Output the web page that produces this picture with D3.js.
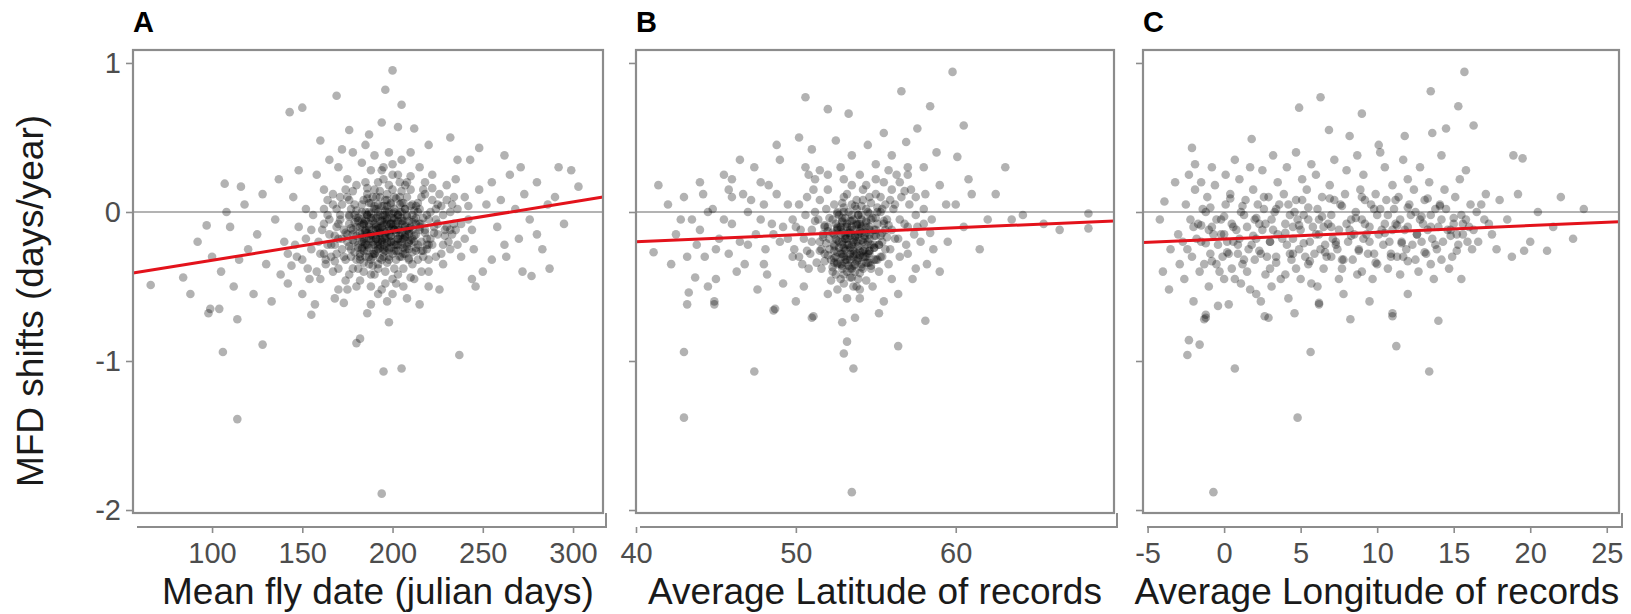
<!DOCTYPE html>
<html>
<head>
<meta charset="utf-8">
<script src="https://cdn.jsdelivr.net/npm/d3@7"></script>
<style>
  body { margin: 0; background: #fff; }
  svg { display: block; font-family: "Liberation Sans", Arial, sans-serif; }
</style>
</head>
<body>
<svg id="chart"></svg>
<script>
const width = 1631;
const height = 614;

// shift values (days/year) against mean fly date, panel A
const pointsA = [
  [200,0.95],[196,0.82],[169,0.78],[150,0.70],[143,0.67],[205,0.72],[187,0.52],[203,0.57],[212,0.56],[232,0.50],
  [248,0.43],[243,0.35],[299,0.28],[303,0.17],[271,0.30],[107,0.19],[116,0.17],[108,0.0],[97,-0.09],[66,-0.49],
  [84,-0.44],[98,-0.68],[277,-0.43],[262,-0.22],[280,-0.15],[246,-0.50],[175,-0.52],[255,-0.32],[106,-0.94],[128,-0.89],
  [114,-1.39],[194,-1.89],[195,-1.07],[205,-1.05],[237,-0.96],[180,-0.88],[182,-0.85],[198,-0.74],[186,-0.68],[155,-0.69],
  [114,-0.72],[99,-0.65],[104,-0.65],[173,-0.61],[197,-0.60],
  [120,-0.25],[125,-0.15],[130,-0.35],[135,-0.05],[138,-0.42],[140,-0.20],[145,0.10],[147,-0.30],[150,-0.55],[152,0.02],
  [155,-0.12],[158,0.25],[160,-0.45],[162,0.15],[165,0.35],[168,-0.58],[170,0.30],[172,0.42],[175,0.22],[178,0.40],
  [180,-0.50],[183,0.33],[185,0.45],[188,0.28],[190,0.38],[192,-0.55],[195,0.30],[198,0.40],[200,0.25],[202,-0.48],
  [205,0.35],[208,0.20],[210,0.40],[212,-0.45],[215,0.30],[218,0.12],[220,-0.40],[222,0.25],[225,0.05],[228,-0.35],
  [230,0.18],[233,-0.15],[235,0.22],[238,-0.30],[240,0.10],[242,-0.05],[245,-0.25],[248,0.15],[250,-0.40],[252,0.05],
  [255,0.20],[258,-0.10],[260,0.08],[263,-0.30],[265,0.25],[268,0.02],[270,-0.18],[273,0.12],[276,-0.05],[280,0.20],
  [283,-0.25],[286,0.05],[290,0.10],[295,-0.08],[112,-0.50],[118,0.05],[123,-0.55],[128,0.12],[133,-0.60],[137,0.22],
  [142,-0.48],[148,0.28],[153,-0.38],[157,-0.62],[163,-0.32],[167,0.05],[188,-0.62],[208,-0.58],[226,-0.52],[236,0.35],
  [244,-0.45],[215,-0.62],[160,0.48],[176,0.55],[194,0.60],[220,0.45],[100,-0.30],[105,-0.40],[92,-0.20],[88,-0.55],
  [110,-0.10],[115,-0.32],[287,-0.38],[292,0.30],[262,0.38],[272,-0.40],
  [160,-0.28],[161,-0.12],[159,-0.20],[162,0.02],[163,-0.35],[162,-0.08],[164,-0.22],[165,-0.15],[166,-0.30],[164,0.08],
  [167,-0.40],[165,-0.05],[168,-0.22],[169,-0.10],[167,0.12],[168,-0.33],[170,-0.18],[171,-0.02],[169,-0.28],[172,0.05],
  [170,-0.38],[173,-0.12],[172,-0.25],[174,0.15],[171,-0.05],[175,-0.20],[176,-0.08],[174,-0.32],[177,0.02],[175,0.10],
  [176,-0.42],[178,-0.15],[177,-0.25],[179,-0.02],[180,-0.10],[181,-0.22],[179,0.05],[182,-0.30],[180,0.18],[181,-0.38],
  [183,-0.15],[183,-0.05],[184,-0.18],[182,-0.28],[184,0.08],[185,-0.12],[186,-0.02],[185,-0.22],[187,-0.35],[186,0.12],
  [184,-0.08],[185,0.20],[188,-0.15],[189,-0.28],[187,0.00],[188,-0.42],[190,-0.08],[191,-0.18],[189,-0.30],[192,0.05],
  [190,0.15],[191,-0.12],[190,-0.22],[193,-0.02],[192,-0.25],[194,-0.10],[193,0.10],[192,-0.35],[195,-0.12],[196,-0.05],
  [194,-0.20],[197,0.00],[195,-0.30],[196,0.08],[195,0.22],[196,-0.40],[198,-0.15],[199,-0.08],[197,0.12],[198,-0.25],
  [200,-0.10],[201,0.02],[199,-0.20],[202,-0.32],[200,0.15],[201,-0.05],[200,-0.45],[203,-0.12],[204,0.05],[202,-0.22],
  [203,0.25],[205,-0.08],[206,-0.18],[204,0.10],[207,-0.28],[205,0.00],[206,-0.38],[208,-0.02],[209,-0.15],[207,0.18],
  [210,-0.10],[211,0.05],[209,-0.25],[212,-0.05],[210,0.15],[211,-0.35],[213,-0.15],[214,0.00],[212,-0.20],[215,-0.08],
  [216,0.10],[214,-0.22],[217,-0.30],[215,0.02],[218,-0.12],[219,-0.02],[217,0.15],[219,-0.25],[220,-0.05],[221,-0.18],
  [222,0.08],[220,-0.32],[223,-0.10],[224,0.02],[222,-0.22],[225,-0.15],[226,0.12],[224,-0.05],[227,-0.28],[228,-0.02],
  [229,-0.12],[230,0.08],[231,-0.20],[232,0.00],[230,-0.10],[233,0.05],[234,-0.08],[232,-0.25],[235,-0.12],[236,0.02],
  [178,-0.12],[181,-0.06],[184,-0.20],[187,-0.10],[189,-0.16],[191,-0.04],[193,-0.14],[195,-0.22],[197,-0.08],[199,-0.16],
  [201,-0.12],[203,-0.02],[205,-0.20],[207,-0.10],[209,-0.06],[211,-0.18],[213,-0.08],[186,-0.26],[190,-0.28],[194,-0.32],
  [198,-0.30],[202,-0.26],[206,-0.24],[182,-0.14],[188,-0.04],[192,-0.20],[196,-0.14],[200,-0.04],[204,-0.16],[208,-0.12],
  [179,-0.20],[183,0.00],[187,0.06],[191,0.02],[195,0.04],[199,0.06],[203,-0.06],[207,0.02],[211,-0.02],[176,-0.02],
  [174,-0.14],[172,-0.18],[185,-0.30],[189,-0.36],[193,-0.24],[197,-0.34],[201,-0.38],[205,-0.30],[209,-0.32],[213,-0.26],
  [180,-0.32],[184,-0.40],[190,-0.42],[196,-0.48],[203,-0.42],[210,-0.44],[186,0.16],[192,0.20],[198,0.18],[204,0.20],
  [210,0.24],[194,0.28],[200,0.32],[189,0.10],[193,0.14],[197,0.04],[201,0.10],[205,0.14],[215,-0.12],[217,-0.04],
  [219,-0.18],[221,0.00],[223,-0.14],[225,-0.08],[227,0.04],[229,-0.16],[214,0.06],[218,0.20],[222,0.16],[216,-0.26],
  [220,-0.22],[224,-0.30],[228,-0.22],[232,-0.12],[234,0.10],[238,-0.08],[240,-0.18],[236,-0.22],[242,0.04],[244,-0.12],
  [170,-0.08],[168,-0.16],[166,-0.22],[164,-0.02],[162,-0.28],[173,-0.30],[171,0.10],[169,0.02],[176,0.08],[178,0.14],
  [155,-0.25],[152,-0.18],[150,-0.32],[148,-0.10],[156,-0.02],[158,-0.40],[154,-0.45],[146,-0.22],[144,-0.36],[142,-0.28],
  [182,-0.46],[188,-0.50],[194,-0.52],[200,-0.55],[206,-0.50],[178,-0.38],[174,-0.46],[170,-0.52],[216,-0.40],[220,-0.50],
  [191,-0.09],[193,-0.18],[195,-0.02],[197,-0.20],[199,-0.12],[189,-0.22],[187,-0.18],[185,-0.06],[201,-0.22],[203,-0.18],
  [205,-0.04],[207,-0.16],[192,-0.11],[196,-0.26],[200,-0.28],[194,-0.06],[198,0.00],[190,0.04],[186,-0.14],[183,-0.24],
  [180,-0.04],[209,-0.20],[211,-0.12],[213,0.04],[188,-0.32],[192,-0.38],[196,-0.18],[202,-0.08],[206,0.06],[184,-0.34],
  [177,-0.30],[182,-0.32],[187,-0.30],[193,-0.31],[198,-0.32],[204,-0.30],[209,-0.31],[214,-0.32],
  [179,-0.27],[184,-0.26],[190,-0.28],[195,-0.27],[201,-0.26],[206,-0.28],[211,-0.27],[217,-0.26],
  [176,-0.23],[181,-0.24],[186,-0.22],[192,-0.23],[197,-0.24],[203,-0.22],[208,-0.23],[213,-0.24],[219,-0.22],
  [178,-0.19],[183,-0.20],[188,-0.18],[194,-0.19],[199,-0.20],[205,-0.18],[210,-0.19],[216,-0.20],
  [175,-0.15],[180,-0.16],[185,-0.14],[191,-0.15],[196,-0.16],[202,-0.14],[207,-0.15],[212,-0.16],[218,-0.14],
  [177,-0.11],[182,-0.10],[187,-0.12],[193,-0.11],[198,-0.10],[204,-0.12],[209,-0.11],[215,-0.10],
  [179,-0.07],[184,-0.08],[189,-0.06],[195,-0.07],[200,-0.08],[206,-0.06],[211,-0.07],[216,-0.08],
  [176,-0.03],[181,-0.04],[186,-0.02],[192,-0.03],[197,-0.04],[203,-0.02],[208,-0.03],[213,-0.04],
  [180,0.01],[185,0.00],[190,0.02],[196,0.01],[201,0.00],[207,0.02],[212,0.01],
  [183,0.05],[188,0.06],[194,0.04],[199,0.05],[205,0.06],[210,0.04],
  [186,0.09],[191,0.10],[197,0.08],[202,0.09],[208,0.10],
  [183,-0.25],[187,-0.24],[191,-0.26],[195,-0.25],[199,-0.24],[203,-0.26],[207,-0.25],
  [185,-0.21],[189,-0.20],[193,-0.22],[197,-0.21],[201,-0.20],[205,-0.22],[209,-0.21],
  [183,-0.17],[187,-0.16],[191,-0.18],[195,-0.17],[199,-0.16],[203,-0.18],[207,-0.17],
  [185,-0.13],[189,-0.12],[193,-0.14],[197,-0.13],[201,-0.12],[205,-0.14],[209,-0.13],
  [183,-0.09],[187,-0.08],[191,-0.10],[195,-0.09],[199,-0.08],[203,-0.10],[207,-0.09],
  [185,-0.05],[189,-0.04],[193,-0.06],[197,-0.05],[201,-0.04],[205,-0.06],
  [188,-0.01],[192,0.00],[196,-0.02],[200,-0.01],[204,0.00]
];

// shift values against average latitude, panel B
const pointsB = [
  [59.8,0.94],[56.6,0.81],[50.6,0.77],[52.0,0.69],[53.3,0.66],[58.4,0.71],[60.5,0.58],[57.6,0.56],[55.5,0.53],[56.9,0.47],
  [63.1,0.30],[60.1,0.37],[64.2,-0.02],[68.3,-0.01],[68.3,-0.11],[61.5,-0.25],[41.4,0.18],[41.1,-0.27],[43.7,-0.44],[43.3,-0.54],
  [44.9,-0.62],[43.2,-0.62],[56.4,-0.55],[51.0,-0.71],[48.6,-0.66],[43.0,-0.94],[43.0,-1.38],[47.4,-1.07],[53.5,-1.88],[53.6,-1.05],
  [56.4,-0.90],[53.0,-0.95],[53.2,-0.87],[58.1,-0.73],[55.2,-0.68],[53.7,-0.71],[52.9,-0.74],[51.1,-0.70],[48.7,-0.65],[44.9,-0.60],
  [50.0,-0.60],
  [42.0,0.05],[42.5,-0.15],[43.0,0.10],[43.5,-0.05],[44.0,0.20],[44.3,-0.30],[44.8,0.02],[45.2,-0.18],[45.5,0.25],[46.0,-0.08],
  [46.3,-0.40],[46.7,0.12],[47.0,-0.22],[47.4,0.30],[47.8,-0.05],[48.0,-0.35],[48.3,0.18],[48.6,-0.15],[49.0,0.35],[49.2,-0.48],
  [49.5,0.05],[45.0,-0.45],[46.5,0.35],[47.6,-0.52],[48.8,0.45],[50.2,0.50],[51.0,0.42],[51.5,0.28],[52.5,0.48],[53.5,0.38],
  [54.5,0.45],[55.0,0.32],[56.0,0.38],[57.0,0.25],[57.5,0.10],[58.0,0.30],[58.5,-0.05],[59.0,0.18],[59.5,-0.20],[60.0,0.05],
  [60.5,-0.10],[61.0,0.12],[62.0,-0.05],[58.2,-0.35],[57.3,-0.45],[59.0,-0.40],[55.5,-0.60],[54.0,-0.58],[52.0,-0.55],[50.5,-0.50],
  [49.8,-0.30],[42.2,-0.35],[44.5,-0.50],[46.0,0.22],[47.2,0.08],[48.1,-0.25],[45.8,-0.28],[43.8,-0.22],[50.8,0.25],[52.8,0.30],
  [58.8,0.40],[57.8,-0.20],[60.8,0.22],[63.5,-0.05],[65.5,-0.08],[66.5,-0.12],[62.5,0.12],
  [50.0,-0.10],[50.2,0.05],[49.9,-0.25],[50.5,-0.18],[50.7,0.10],[50.4,-0.35],[50.6,-0.02],[51.0,-0.12],[51.2,0.00],[50.9,-0.28],
  [51.1,0.15],[51.5,-0.20],[51.4,-0.05],[51.6,-0.38],[51.5,0.08],[51.7,-0.15],[52.0,-0.10],[52.1,-0.25],[51.9,0.02],[52.2,-0.32],
  [52.0,0.15],[52.1,-0.18],[52.4,-0.22],[52.5,-0.08],[52.3,-0.40],[52.5,-0.30],[52.4,0.05],[52.8,-0.15],[52.9,-0.28],[52.7,-0.02],
  [52.8,-0.35],[53.0,0.10],[52.8,-0.45],[52.9,-0.20],[53.1,-0.25],[53.2,-0.10],[53.1,-0.32],[53.0,0.00],[53.2,-0.40],[53.1,-0.18],
  [53.5,-0.22],[53.4,-0.12],[53.6,-0.30],[53.5,0.05],[53.4,-0.38],[53.6,-0.05],[53.5,0.18],[53.8,-0.28],[53.9,-0.15],[53.7,-0.35],
  [53.8,0.02],[53.9,-0.45],[53.8,-0.08],[54.2,-0.20],[54.1,-0.10],[54.3,-0.30],[54.2,0.08],[54.1,-0.02],[54.3,-0.25],[54.2,0.15],
  [54.6,-0.15],[54.7,-0.05],[54.5,-0.28],[54.6,0.10],[54.7,-0.38],[55.0,-0.12],[55.1,0.00],[54.9,-0.22],[55.0,0.12],[55.1,-0.32],
  [55.5,-0.08],[55.4,-0.20],[55.6,0.05],[55.5,0.20],[55.4,-0.30],[56.0,-0.12],[56.1,0.02],[55.9,-0.25],[56.0,0.15],[56.5,-0.05],
  [56.4,-0.18],[56.6,0.10],[57.0,-0.10],[57.1,0.05],[56.9,-0.22],[57.5,-0.02],[57.4,-0.15],[58.0,-0.08],[58.1,0.12],
  [52.6,-0.12],[52.9,-0.06],[53.2,-0.18],[53.5,-0.10],[53.8,-0.20],[54.1,-0.14],[54.4,-0.06],[54.7,-0.22],[55.0,-0.04],[55.3,-0.16],
  [52.7,-0.24],[53.0,-0.30],[53.3,-0.36],[53.6,-0.26],[53.9,-0.32],[54.2,-0.38],[54.5,-0.34],[52.5,-0.42],[53.0,-0.48],[53.6,-0.50],
  [54.0,-0.52],[52.2,-0.46],[51.8,-0.28],[51.3,-0.34],[51.0,-0.20],[50.7,-0.26],[50.3,-0.12],[49.8,-0.05],[49.5,-0.18],[49.2,-0.10],
  [52.3,-0.14],[52.6,0.00],[52.9,0.06],[53.2,0.12],[53.5,-0.02],[53.8,0.08],[54.1,0.04],[54.4,0.18],[54.7,0.06],[55.0,0.22],
  [55.3,0.10],[55.6,-0.12],[55.9,0.08],[56.2,-0.18],[56.5,0.20],[56.8,-0.08],[57.2,0.15],[57.6,-0.10],[58.0,0.02],[58.4,-0.14],
  [55.8,0.28],[56.3,0.25],[57.0,0.30],[54.0,0.25],[53.0,0.22],[52.0,0.25],[51.2,0.22],[55.2,-0.40],[55.8,-0.35],[56.5,-0.30],
  [57.0,-0.28],[53.3,-0.14],[53.7,-0.16],[54.0,-0.08],[54.3,-0.16],[52.8,-0.10],[53.1,-0.04],[53.4,-0.28],[53.7,-0.40],[54.0,-0.26],
  [54.6,-0.26],[54.9,-0.12],[55.2,-0.22],[52.4,-0.34],[52.1,-0.04],[51.8,-0.10],[51.5,-0.26],[51.2,-0.06],[50.8,-0.38],[50.2,-0.30],
  [48.5,-0.08],[48.0,0.05],[47.5,-0.15],[47.0,0.00],[46.5,-0.20],[46.0,0.10],[45.5,-0.05],[45.0,-0.25],[44.5,0.00],[44.0,-0.12],
  [49.0,-0.20],[48.8,0.12],[48.2,-0.42],[47.8,0.20],[46.8,-0.35],[45.8,0.15],[44.2,0.12],[43.2,-0.30],[42.8,-0.05],[50.6,0.30],
  [53.4,-0.44],[53.8,-0.50],[54.4,-0.46],[52.6,-0.52],[53.2,-0.58],[54.8,-0.50],[56.0,-0.45],[57.5,-0.38],[58.6,-0.25],[59.4,0.05],
  [53.6,-0.19],[53.2,-0.22],[54.2,-0.30],[52.9,-0.38],[53.9,-0.02],[54.5,0.00],[55.4,0.02],[56.2,0.05],[55.7,-0.05],[56.8,0.14],
  [52.3,-0.37],[52.9,-0.36],[53.5,-0.38],[54.1,-0.37],[54.7,-0.36],
  [51.8,-0.33],[52.6,-0.34],[53.2,-0.32],[53.8,-0.33],[54.4,-0.34],[55.0,-0.32],
  [52.0,-0.29],[52.8,-0.28],[53.4,-0.30],[54.0,-0.29],[54.6,-0.28],[55.3,-0.30],
  [51.6,-0.25],[52.4,-0.26],[53.0,-0.24],[53.6,-0.25],[54.2,-0.26],[54.9,-0.24],[55.6,-0.25],
  [51.9,-0.21],[52.7,-0.20],[53.3,-0.22],[53.9,-0.21],[54.5,-0.20],[55.2,-0.22],
  [51.7,-0.17],[52.5,-0.18],[53.1,-0.16],[53.7,-0.17],[54.3,-0.18],[55.0,-0.16],[55.7,-0.17],
  [52.0,-0.13],[52.8,-0.12],[53.4,-0.14],[54.0,-0.13],[54.6,-0.12],[55.4,-0.14],
  [51.8,-0.09],[52.6,-0.10],[53.2,-0.08],[53.8,-0.09],[54.4,-0.10],[55.1,-0.08],[55.8,-0.09],
  [52.3,-0.05],[52.9,-0.04],[53.5,-0.06],[54.1,-0.05],[54.8,-0.04],[55.5,-0.06],
  [52.6,-0.01],[53.3,0.00],[53.9,-0.02],[54.6,-0.01],[55.3,0.00],
  [53.0,0.03],[53.7,0.04],[54.4,0.02],[55.1,0.03],
  [52.6,-0.35],[53.1,-0.34],[53.6,-0.36],[54.1,-0.35],[54.6,-0.34],
  [52.4,-0.31],[52.9,-0.30],[53.4,-0.32],[53.9,-0.31],[54.4,-0.30],[54.9,-0.32],
  [52.6,-0.27],[53.1,-0.26],[53.6,-0.28],[54.1,-0.27],[54.6,-0.26],
  [52.4,-0.23],[52.9,-0.22],[53.4,-0.24],[53.9,-0.23],[54.4,-0.22],[54.9,-0.24],
  [52.6,-0.19],[53.1,-0.18],[53.6,-0.20],[54.1,-0.19],[54.6,-0.18],
  [52.4,-0.15],[52.9,-0.14],[53.4,-0.16],[53.9,-0.15],[54.4,-0.14],[54.9,-0.16],
  [52.6,-0.11],[53.1,-0.10],[53.6,-0.12],[54.1,-0.11],[54.6,-0.10],
  [52.9,-0.07],[53.4,-0.06],[53.9,-0.08],[54.4,-0.07],
  [53.0,-0.42],[53.5,-0.44],[54.0,-0.41]
];

// shift values against average longitude, panel C
const pointsC = [
  [15.7,0.94],[13.5,0.81],[6.3,0.77],[4.9,0.70],[9.0,0.66],[15.3,0.71],[16.3,0.58],[6.85,0.55],[8.2,0.51],[1.8,0.49],
  [-2.1,0.43],[-1.9,0.32],[18.9,0.38],[19.5,0.36],[10.1,0.45],[11.8,0.51],[13.6,0.53],[14.5,0.56],[-3.9,0.07],[20.5,0.0],
  [23.5,0.02],[22.8,-0.18],[19.6,-0.26],[21.1,-0.26],[-3.6,-0.52],[-1.2,-0.71],[2.9,-0.71],[6.2,-0.62],[11.0,-0.70],[14.0,-0.73],
  [-2.4,-0.96],[-1.6,-0.89],[-2.3,-0.86],[0.7,-1.05],[4.8,-1.38],[-0.7,-1.88],[5.65,-0.94],[11.25,-0.90],[13.4,-1.07],[11.0,-0.68],
  [8.25,-0.72],[2.65,-0.70],[-0.4,-0.63],[-1.3,-0.72],[-1.2,-0.69],[4.6,-0.68],[6.2,-0.61],
  [-3.0,-0.15],[-2.9,-0.35],[-2.5,0.05],[-2.4,-0.25],[-2.6,-0.45],[-2.0,-0.10],[-1.9,0.15],[-2.1,-0.30],[-1.5,-0.20],[-1.4,0.02],
  [-1.6,-0.40],[-1.5,0.20],[-1.0,-0.12],[-0.9,-0.28],[-1.1,0.10],[-1.0,-0.50],[-0.5,-0.05],[-0.4,-0.22],[-0.6,0.18],[-0.5,-0.35],
  [0.0,-0.15],[0.1,0.05],[-0.1,-0.30],[0.0,-0.45],[0.1,0.25],[0.5,-0.08],[0.6,-0.20],[0.4,0.12],[0.5,-0.38],[1.0,-0.18],
  [1.1,0.00],[0.9,-0.28],[1.0,0.22],[1.1,-0.48],[1.5,-0.10],[1.6,-0.25],[1.4,0.08],[1.5,-0.40],[2.0,-0.05],[2.1,-0.18],
  [1.9,0.15],[2.0,-0.32],[2.1,-0.55],[2.5,-0.12],[2.6,0.02],[2.4,-0.28],[2.5,0.28],[3.0,-0.20],[3.1,-0.05],[2.9,0.10],
  [3.0,-0.38],[3.1,-0.50],[3.5,-0.15],[3.6,0.05],[3.4,-0.30],[3.5,0.20],[4.0,-0.08],[4.1,-0.22],[3.9,0.12],[4.0,-0.42],
  [4.1,0.30],[4.5,-0.18],[4.6,0.00],[4.4,-0.32],[4.5,-0.10],[5.0,-0.12],[5.1,0.08],[4.9,-0.25],[5.0,-0.45],[5.1,0.22],
  [5.5,-0.05],[5.6,-0.20],[5.4,0.15],[5.5,-0.35],[6.0,-0.15],[6.1,0.02],[5.9,-0.28],[6.0,0.25],[6.1,-0.50],[6.5,-0.10],
  [6.6,-0.22],[6.4,0.10],[6.5,-0.38],[7.0,-0.02],[7.1,-0.18],[6.9,0.18],[7.0,-0.30],[7.5,-0.12],[7.6,0.05],[7.4,-0.25],
  [7.5,-0.45],[8.0,-0.08],[8.1,-0.20],[7.9,0.12],[8.0,0.28],[8.5,-0.15],[8.6,0.00],[8.4,-0.32],[9.0,-0.05],[9.1,-0.18],
  [8.9,0.15],[9.0,-0.40],[9.1,0.25],[9.5,-0.10],[9.6,0.05],[9.4,-0.28],[10.0,-0.02],[10.1,-0.15],[9.9,0.12],[10.0,-0.35],
  [10.5,-0.08],[10.6,0.08],[10.4,-0.22],[10.5,0.30],[11.0,-0.12],[11.1,0.02],[10.9,-0.30],[11.0,0.18],[11.5,-0.05],[11.6,-0.20],
  [11.4,0.10],[11.5,-0.42],[12.0,-0.10],[12.1,0.05],[11.9,-0.25],[12.0,0.22],[12.5,0.00],[12.6,-0.15],[12.4,0.15],[12.5,-0.32],
  [13.0,-0.08],[13.1,0.08],[12.9,-0.20],[13.5,-0.02],[13.6,-0.18],[13.4,0.20],[13.5,-0.35],[14.0,-0.10],[14.1,0.05],[13.9,-0.25],
  [14.5,0.02],[14.6,-0.12],[14.4,0.15],[15.0,-0.08],[15.1,0.10],[14.9,-0.30],[15.5,-0.02],[15.6,-0.15],[15.4,0.22],[16.0,-0.10],
  [16.1,0.05],[16.5,0.00],[16.6,-0.20],[17.0,-0.05],[17.1,0.12],[17.5,-0.15],[18.0,0.08],
  [-2.2,-0.05],[-1.8,-0.18],[-1.2,0.00],[-0.8,-0.10],[-0.2,-0.05],[0.3,-0.28],[0.8,-0.12],[1.2,-0.35],[1.8,-0.22],[2.3,-0.08],
  [2.8,-0.30],[3.3,0.00],[3.8,-0.18],[4.3,-0.28],[4.8,-0.05],[5.3,-0.30],[5.8,-0.10],[6.3,-0.25],[6.8,-0.08],[7.3,-0.20],
  [7.8,-0.32],[8.3,-0.05],[8.8,-0.25],[9.3,-0.15],[9.8,-0.28],[10.3,-0.12],[10.8,-0.20],[11.3,-0.30],[11.8,-0.12],[12.3,-0.22],
  [12.8,-0.05],[13.3,-0.12],[13.8,0.02],[14.3,-0.20],[14.8,-0.12],[15.3,-0.22],[15.8,-0.05],[16.3,-0.12],[16.8,0.05],[17.3,-0.08],
  [-2.7,-0.20],[-1.7,-0.08],[-0.7,-0.15],[0.2,-0.20],[1.3,-0.02],[2.2,0.05],[3.2,-0.12],[4.2,0.05],[5.2,-0.02],[6.2,-0.05],
  [7.2,0.08],[8.2,-0.12],[9.2,0.08],[10.2,0.02],[11.2,-0.08],[12.2,-0.02],[13.2,-0.28],[14.2,-0.05],[15.2,-0.15],[16.2,-0.25],
  [-1.3,-0.35],[-0.3,-0.40],[0.7,-0.45],[1.7,-0.52],[2.7,-0.42],[3.7,-0.45],[4.7,-0.38],[5.7,-0.48],[6.7,-0.30],[7.7,-0.38],
  [8.7,-0.42],[9.7,-0.45],[10.7,-0.38],[11.7,-0.30],[12.7,-0.40],[13.7,-0.45],[14.7,-0.38],[-2.3,0.25],[-0.8,0.30],[0.7,0.35],
  [1.7,0.30],[3.2,0.38],[4.7,0.40],[5.7,0.32],[7.2,0.35],[8.7,0.38],[10.2,0.40],[11.7,0.35],[12.8,0.30],[14.2,0.38],
  [15.8,0.28],[17.8,-0.25],[18.5,-0.05],[18.8,-0.30],[19.2,0.12],[20.0,-0.20],[21.5,-0.10],[22.0,0.10],[-3.5,-0.25],[-4.0,-0.40],
  [-3.2,0.20],[-4.2,-0.05],[2.4,-0.60],[4.2,-0.58],[7.8,-0.55],[9.5,-0.60],[12.0,-0.55],[0.3,-0.62],[-2.0,-0.60],[15.5,-0.45],
  [-0.8,-0.33],[1.3,-0.32],[3.4,-0.34],[5.6,-0.33],[7.7,-0.32],[9.9,-0.34],[12.0,-0.33],[14.2,-0.32],
  [0.2,-0.27],[2.3,-0.26],[4.5,-0.28],[6.6,-0.27],[8.8,-0.26],[10.9,-0.28],[13.1,-0.27],[15.2,-0.26],
  [-1.2,-0.21],[0.9,-0.22],[3.0,-0.20],[5.2,-0.21],[7.3,-0.22],[9.5,-0.20],[11.6,-0.21],[13.8,-0.22],[15.9,-0.20],
  [-0.2,-0.15],[1.9,-0.16],[4.0,-0.14],[6.2,-0.15],[8.3,-0.16],[10.5,-0.14],[12.6,-0.15],[14.8,-0.16],
  [-1.5,-0.09],[0.6,-0.10],[2.7,-0.08],[4.9,-0.09],[7.0,-0.10],[9.2,-0.08],[11.3,-0.09],[13.5,-0.10],[15.6,-0.08],
  [0.0,-0.03],[2.1,-0.04],[4.3,-0.02],[6.4,-0.03],[8.6,-0.04],[10.7,-0.02],[12.9,-0.03],[15.0,-0.04],
  [-0.9,0.03],[1.2,0.04],[3.4,0.02],[5.5,0.03],[7.7,0.04],[9.8,0.02],[12.0,0.03],[14.1,0.04],
  [0.4,0.09],[2.6,0.10],[4.7,0.08],[6.9,0.09],[9.0,0.10],[11.2,0.08],[13.3,0.09]
];

// fitted lines (end points at the panel edges)
const fitA = [[56.2,-0.41],[316.6,0.10]];
const fitB = [[40,-0.20],[69.9,-0.06]];
const fitC = [[-5.3,-0.205],[25.8,-0.065]];

const yTicks = [1, 0, -1, -2];
const xTicksA = [100, 150, 200, 250, 300];
const xTicksB = [40, 50, 60];
const xTicksC = [-5, 0, 5, 10, 15, 20, 25];

const panels = [
  {label: 'A', left: 133, w: 470, domain: [56.2, 316.6], ticks: xTicksA, pts: pointsA, fit: fitA,
   title: 'Mean fly date (julian days)', titleShift: 10, showY: true},
  {label: 'B', left: 636, w: 478, domain: [40, 69.9], ticks: xTicksB, pts: pointsB, fit: fitB,
   title: 'Average Latitude of records', titleShift: 0, showY: false},
  {label: 'C', left: 1143, w: 476, domain: [-5.3, 25.8], ticks: xTicksC, pts: pointsC, fit: fitC,
   title: 'Average Longitude of records', titleShift: -4, showY: false}
];

const plotTop = 50, plotBottom = 513, axisY = 527;
const grey = '#8c8c8c';

const svg = d3.select('#chart').attr('width', width).attr('height', height);

const yScale = d3.scaleLinear().domain([1.087, -2.02]).range([plotTop, plotBottom]);

panels.forEach(p => {
  const xScale = d3.scaleLinear().domain(p.domain).range([p.left, p.left + p.w]);
  const g = svg.append('g');

  // zero line
  g.append('line')
    .attr('x1', p.left).attr('x2', p.left + p.w)
    .attr('y1', yScale(0)).attr('y2', yScale(0))
    .attr('stroke', '#9a9a9a').attr('stroke-width', 1.6);

  // points
  g.append('g')
    .selectAll('circle')
    .data(p.pts)
    .enter()
    .append('circle')
    .attr('cx', d => xScale(d[0]))
    .attr('cy', d => yScale(d[1]))
    .attr('r', 4.3)
    .attr('fill', '#000')
    .attr('fill-opacity', 0.3);

  // regression line
  g.append('path')
    .datum(p.fit)
    .attr('d', d3.line().x(d => xScale(d[0])).y(d => yScale(d[1])))
    .attr('stroke', '#e3121b').attr('stroke-width', 3).attr('fill', 'none');

  // panel border
  g.append('rect')
    .attr('x', p.left).attr('y', plotTop)
    .attr('width', p.w).attr('height', plotBottom - plotTop)
    .attr('fill', 'none').attr('stroke', grey).attr('stroke-width', 2.2);

  // y axis ticks
  const yAxis = d3.axisLeft(yScale).tickValues(yTicks).tickSize(6).tickPadding(5)
    .tickFormat(d => p.showY ? String(d) : '');
  const ya = g.append('g').attr('transform', `translate(${p.left - 1},0)`).call(yAxis);
  ya.select('.domain').remove();
  ya.selectAll('line').attr('stroke', grey).attr('stroke-width', 1.6);
  ya.selectAll('text').attr('fill', '#4d4d4d').style('font-size', '29px');

  // detached x axis line under the panel
  g.append('path')
    .attr('d', `M${p.left + 4},${axisY}H${p.left + p.w + 3}V${plotBottom}`)
    .attr('fill', 'none').attr('stroke', grey).attr('stroke-width', 2);

  const xAxis = d3.axisBottom(xScale).tickValues(p.ticks).tickSize(6).tickPadding(9)
    .tickFormat(d => String(d));
  const xa = g.append('g').attr('transform', `translate(0,${axisY})`).call(xAxis);
  xa.select('.domain').remove();
  xa.selectAll('line').attr('stroke', grey).attr('stroke-width', 1.6);
  xa.selectAll('text').attr('fill', '#4d4d4d').style('font-size', '29px');

  // x title
  g.append('text')
    .attr('x', p.left + p.w / 2 + p.titleShift).attr('y', 604)
    .attr('text-anchor', 'middle')
    .style('font-size', '37px').attr('fill', '#1a1a1a')
    .text(p.title);

  // panel letter
  g.append('text')
    .attr('x', p.left).attr('y', 32)
    .style('font-size', '29px').style('font-weight', 'bold').attr('fill', '#000')
    .text(p.label);
});

// y title
svg.append('text')
  .attr('transform', 'translate(43,301) rotate(-90)')
  .attr('text-anchor', 'middle')
  .style('font-size', '37px').attr('fill', '#1a1a1a')
  .text('MFD shifts (days/year)');
</script>
</body>
</html>
